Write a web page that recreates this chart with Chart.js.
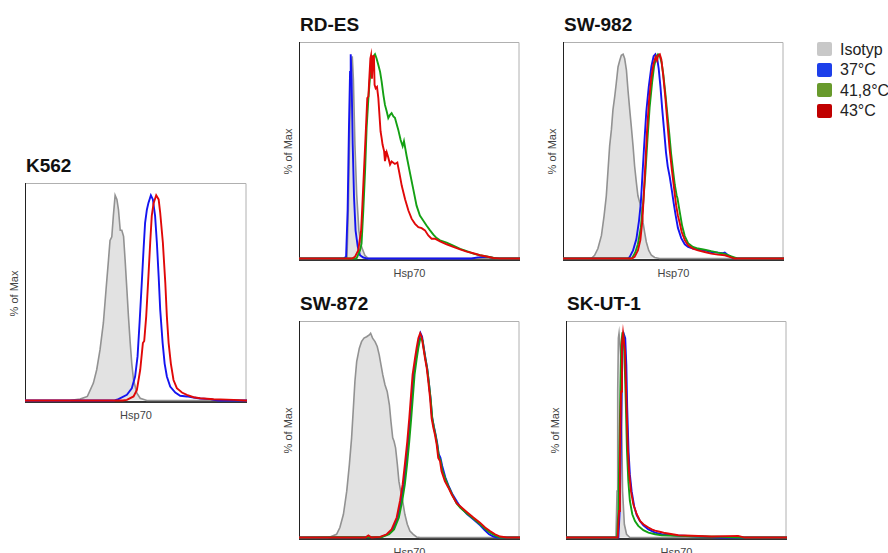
<!DOCTYPE html>
<html>
<head>
<meta charset="utf-8">
<script src="https://cdn.jsdelivr.net/npm/chart.js@4.4.1/dist/chart.umd.min.js"></script>
<style>
  html, body { margin: 0; padding: 0; background: #fff; }
  body { width: 888px; height: 553px; position: relative; overflow: hidden;
         font-family: "Liberation Sans", Arial, sans-serif; }
  canvas { position: absolute; }
  .title { position: absolute; font-weight: bold; font-size: 19px; line-height: 19px; color: #111; white-space: nowrap; }
  .xlab { position: absolute; font-size: 11px; line-height: 11px; color: #444; width: 100px; text-align: center; }
  .ylab { position: absolute; font-size: 11px; line-height: 11px; color: #444; width: 80px; text-align: center;
          transform: rotate(-90deg); }
  .key { position: absolute; left: 817px; width: 15px; height: 14px; border-radius: 2px; }
  .keytxt { position: absolute; left: 840px; font-size: 16px; line-height: 15px; color: #222; white-space: nowrap; }
</style>
</head>
<body>
<script>
// Hsp70 histograms, x = channel (0-100 of the plotted range), y = % of Max
const k562Iso = [[0,0],[20,0],[24.8,0.7],[28.1,2],[30.8,8.5],[32.3,15],[33.8,24.8],[35.3,37.8],[36.5,54],[37.6,68.4],[38.3,78],[39.1,79.8],[39.8,90],[40.6,100],[41.4,98],[42.1,93],[42.9,83],[43.6,83],[44.4,80],[45.1,68.4],[45.9,54],[46.6,41],[47.4,28],[48.1,18],[48.9,10],[50.4,3.6],[51.9,1.1],[54.9,0],[100,0]];
const k562C37 = [[0,0],[40,0],[42.1,0.7],[45.9,2.8],[48.1,6],[49.6,11.7],[50.7,21.5],[51.6,37.8],[52.6,57.3],[53.4,73.6],[54.1,86.6],[54.9,93],[55.6,96.3],[56.7,100],[57.6,98],[58.6,90],[59.4,77],[60.2,60.6],[60.9,44.3],[62,28],[62.9,18],[63.9,11.7],[65.4,6.8],[67.7,3.9],[69.9,2.3],[72.9,2],[75.9,1.5],[78.9,1],[83.5,0.7],[85,0.3],[87,0],[100,0]];
const k562C43 = [[0,0],[44,0],[45.9,0.3],[48.9,2],[50.4,5.2],[51.9,15],[53.1,28],[53.7,29],[54.6,41],[55.6,60.6],[56.4,77],[57.1,90],[57.9,96],[59.1,100],[60.2,98],[60.9,91.5],[62.1,77],[63.2,57.3],[63.9,41],[64.7,28],[65.7,18],[66.9,10],[68.4,6],[70.7,3.9],[72.9,2.8],[75.9,1.6],[78.9,1.1],[85,0.65],[94,0.3],[99.2,0],[100,0]];

const rdesIso = [[0,0],[21.7,0],[22.3,23.5],[23.1,72],[23.8,96],[24.1,99],[24.6,88],[25.3,55.8],[26.1,31.6],[27.1,13.7],[28.3,5.7],[29.8,1.6],[31.4,0],[100,0]];
const rdesC37 = [[0,0],[20.1,0],[21.3,0.8],[22.0,23.5],[22.6,64],[23.1,91.4],[23.4,100],[23.8,88],[24.3,55.8],[24.9,30],[25.6,13.7],[26.6,5.7],[27.6,1.6],[29.1,0.5],[31,0],[78,0],[81,0.6],[85,0.8],[88,0.3],[90,0],[100,0]];
const rdesC418 = [[0,0],[26,0],[27.6,4],[28.3,7.3],[29.1,23.5],[29.9,42.9],[30.6,64],[31.4,78.5],[32.2,89.8],[32.9,96.3],[33.6,98.9],[34.4,100],[35.1,97.9],[35.9,94.7],[36.7,91.4],[37.4,86.6],[38.2,80],[38.9,75.2],[39.7,72],[40.4,68.8],[41.2,70.4],[41.9,71.2],[42.7,69.6],[43.4,68.9],[44.9,63.1],[46,58],[46.9,55],[47.5,57.5],[48.7,50.2],[50.2,42],[51.7,34],[53.2,25.9],[54.7,21],[56.2,18.6],[57.7,16.2],[59.3,13.8],[60.8,11.7],[62.3,10],[63.8,8.9],[66.8,7.8],[69.8,6.3],[72.9,4.7],[75.9,3.6],[78.9,2.4],[81.9,1.6],[84.9,1],[89.4,0],[100,0]];
const rdesC43 = [[0,0],[24,0],[25.3,0.8],[26.8,4],[28.1,13.7],[28.7,26.7],[29.6,47.7],[30.3,64],[30.9,78.5],[31.4,79.3],[31.8,88],[32.3,98],[32.6,99.5],[33.0,88],[33.5,98.5],[33.9,99.5],[34.2,85],[34.7,83.3],[35.3,84],[35.9,78.5],[36.3,72],[36.9,62.3],[37.4,59],[37.8,55.8],[38.5,52.6],[38.9,47.7],[39.7,52],[40.4,49.5],[41.2,46],[41.9,47.5],[43.4,46.3],[44.5,47],[45.4,42],[46.5,35.6],[48,29],[49.5,23.5],[51,19.4],[52.5,17],[54,15.4],[55.5,14.9],[57,13.8],[58.5,11.3],[60,9.7],[61.5,9.7],[63.8,8.4],[66.8,7.0],[69.8,5.7],[72.9,4.5],[75.9,3.4],[78.9,2.6],[81.9,1.6],[84.9,1],[87.9,0.3],[90.9,0],[100,0]];

const sw982Iso = [[0,0],[12.8,0],[14.3,1.6],[15.8,4.9],[17.4,11.3],[18.6,21],[19.6,30.7],[20.4,43.7],[21.1,55],[21.9,63.1],[22.6,72.8],[23.4,79.3],[24.1,85.8],[24.9,93.8],[25.7,97.1],[26.4,99.5],[27.2,100],[27.9,97.9],[28.7,92.2],[29.4,82.5],[30.2,72.8],[30.9,64.7],[31.7,55],[32.4,45.3],[33.2,37.2],[33.9,30.7],[34.7,27.5],[35.5,24.3],[36.2,17.8],[36.9,13],[37.7,8.1],[38.8,4],[40.0,1.6],[41.5,0.5],[43.7,0],[100,0]];
const sw982C37 = [[0,0],[29.4,0],[30.2,0.8],[31.7,4],[33.2,9.5],[34.4,18.6],[35.2,27],[35.9,40],[36.7,55],[37.7,72],[38.8,84],[40.0,94],[41.0,99],[41.8,100],[42.6,98],[43.3,93],[44.1,84],[44.9,73],[45.8,62],[46.6,52],[47.4,45],[48.3,40],[49.3,33],[50.1,27],[51,21],[52,15],[53.5,10],[55.1,7],[56.6,5.7],[58.8,4.9],[61.1,4.4],[64.1,4],[67.1,3.2],[70.1,2.9],[72.4,2.6],[73.2,2.9],[74.7,1.6],[76.9,0.3],[79.2,0],[100,0]];
const sw982C418 = [[0,0],[31.2,0],[32.7,3],[33.9,7],[35.2,15],[36.2,26],[37.3,42],[38.2,58],[39.2,74],[40.3,86],[41.2,94],[42.2,98.5],[43.0,100],[43.8,99],[44.6,96],[45.4,90],[46.3,81],[47.2,71],[48.1,61],[48.9,51.5],[49.8,43],[50.6,36],[51.4,31],[51.8,29.5],[52.8,23],[53.9,16],[55.1,11],[56.6,7.5],[58.8,5.7],[61.1,4.9],[64.1,4.4],[67.1,3.6],[70.1,2.9],[73.2,2.3],[76.2,1],[79.2,0],[100,0]];
const sw982C43 = [[0,0],[31.2,0],[32.4,0.8],[33.9,4],[35.0,9],[35.9,18.6],[36.5,30],[37.3,47],[38.0,62],[38.9,77],[40.0,89],[41.0,95.5],[41.9,98.7],[42.5,97],[43.1,99.5],[43.8,100],[44.5,97.5],[45.3,90],[46.3,79],[47.2,67],[48.2,54],[49.3,43],[50.3,34],[51.2,26],[52.0,21],[52.8,17.5],[53.7,13],[55.1,9],[56.6,6.5],[58.8,4.9],[61.1,4],[64.1,3.2],[67.1,2.4],[70.1,1.9],[73.2,1.6],[75.4,0.8],[77.7,0],[100,0]];

const sw872Iso = [[0,0],[13.1,0],[14.0,0.3],[17.0,1.6],[18.5,4.9],[20.1,11.4],[21.6,22.7],[22.8,35.8],[23.8,48.8],[24.6,63.4],[25.3,76.4],[26.1,86.1],[27.3,92.7],[28.3,95.9],[29.4,97.6],[30.6,98.3],[31.8,99.2],[32.4,100],[33.3,97.6],[34.4,95.9],[35.4,93.5],[36.3,89.4],[37.1,84.5],[37.9,79.7],[38.9,74.8],[39.9,71.5],[40.9,65],[41.6,56.9],[42.4,48.8],[43.0,47.1],[43.7,43.9],[44.5,35.8],[45.2,27.6],[46.0,22.7],[46.9,17.9],[47.9,11.4],[49.0,6.5],[50.2,3.2],[51.7,1.6],[53.2,0.3],[54.8,0],[100,0]];
const sw872C37 = [[0,0],[37.2,0.3],[40.2,1.6],[42.4,4],[44.7,9.8],[46.2,17.9],[47.4,26],[48.4,35.8],[49.5,47.1],[50.4,58.5],[51.2,69.9],[51.9,79.7],[53.0,87.8],[53.7,92.7],[54.5,97.6],[55.0,100],[55.7,98.3],[56.5,92.7],[57.2,87.8],[58.0,82.9],[58.7,76.4],[59.5,68.3],[60.2,59],[61.0,54.5],[61.7,51],[62.5,46.5],[63.2,41],[64.0,39],[64.8,35],[66.2,29.5],[67.8,25],[69.3,21.5],[71.5,17.5],[73.0,15],[76.0,11.5],[79.0,8.8],[82.0,6],[84.0,3.6],[86.0,1.6],[88,0.5],[90,0],[100,0]];
const sw872C418 = [[0,0],[37.5,0.3],[40.8,1.6],[43,4],[45.2,9.8],[46.7,17.9],[47.9,26],[48.9,35.8],[49.9,47.1],[50.8,58.5],[51.6,69.9],[52.3,79.7],[53.3,87.8],[54.0,92.7],[54.7,96.5],[55.2,97.5],[55.9,96.5],[56.6,91.5],[57.3,87],[58.1,82],[58.8,75.5],[59.6,67.5],[60.3,58.5],[61.1,53.5],[61.8,50],[62.6,45],[63.3,39.5],[64.1,37.5],[64.8,33],[66.3,28.5],[67.8,24.5],[69.3,21],[71.4,16.5],[73.0,14.5],[76,11.8],[79,9.2],[82,6.5],[84.3,4.2],[86.5,2.4],[89,0.8],[91,0],[100,0]];
const sw872C43 = [[0,0],[30,0],[31.4,1],[32.8,0],[36.7,0.3],[39.7,1.6],[41.9,4],[44.2,9.8],[45.7,17.9],[46.9,26],[47.9,35.8],[49.0,47.1],[49.9,58.5],[50.7,69.9],[51.4,79.7],[52.5,87.8],[53.2,92.7],[54.0,97.6],[54.8,100],[55.5,98.3],[56.3,92.7],[57.0,87.8],[57.8,82.9],[58.5,76.4],[59.3,68.3],[60.0,58.5],[60.8,53.7],[61.5,50.4],[62.3,45.5],[63.0,39],[63.8,37.4],[64.5,32.5],[66.0,27.6],[67.6,24.4],[69.1,21.1],[71.3,16.8],[72.8,15.4],[75.9,12.5],[78.9,9.8],[81.9,7.3],[84.2,4.9],[86.4,3.2],[88.7,1.6],[91.0,0.5],[94,0],[100,0]];

const skut1Iso = [[0,0],[22.6,0],[23.1,22.7],[23.4,71.5],[23.7,97.6],[24.0,100],[24.4,100],[24.9,87.8],[25.2,55.3],[25.6,22.7],[26.4,6.5],[27.4,1.6],[28.9,0],[100,0]];
const skut1C37 = [[0,0],[23.7,0],[24.3,13],[24.7,39],[25.2,71.5],[25.6,94.3],[26.2,99.5],[26.8,97.6],[27.3,84.5],[27.7,63.4],[28.3,42.2],[28.9,30.9],[29.7,22.7],[30.9,15],[32.0,11],[33.5,8],[35.0,6],[37.3,4],[40.3,2.4],[43.3,1.6],[50,1],[60,0.5],[70,0],[100,0]];
const skut1C418 = [[0,0],[23.1,0],[23.7,13],[24.1,39],[24.6,71.5],[25.0,94.3],[25.5,100],[25.9,100],[26.4,91],[27.0,68.3],[27.6,42.2],[28.2,27.6],[28.9,17.9],[30.0,11.4],[31.2,8.1],[32.7,5.7],[35.0,3.6],[37.3,2.4],[40.3,1.6],[43.3,1.1],[50.8,0.8],[60,0.5],[70,0.4],[81,0],[100,0]];
const skut1C43 = [[0,0],[23.4,0],[24.0,13],[24.4,39],[24.9,71.5],[25.3,94.3],[25.8,100],[26.2,100],[26.7,91],[27.3,68.3],[27.9,45.5],[28.5,32.5],[29.4,22.7],[30.5,16.2],[32.0,11.4],[33.5,8.1],[35.0,6.5],[37.3,4.9],[38.8,4],[40.3,3.4],[43.3,2.6],[44.8,2.2],[50.8,1.1],[65.9,0.5],[77.9,0.8],[80.9,0],[100,0]];

const seriesNames = ['Isotyp', '37°C', '41,8°C', '43°C'];
const keyColors = ['#c8c8c8', '#1d3fea', '#689a2c', '#c00000'];
const lineColors = ['#929292', '#1414f0', '#14a014', '#e00808'];

const panels = [
  { name: 'K562',    box: [25, 183, 222, 220],  sets: [k562Iso, k562C37, null, k562C43] },
  { name: 'RD-ES',   box: [299, 42, 221, 219],  sets: [rdesIso, rdesC37, rdesC418, rdesC43] },
  { name: 'SW-982',  box: [563, 42, 221, 219],  sets: [sw982Iso, sw982C37, sw982C418, sw982C43] },
  { name: 'SW-872',  box: [299, 321, 221, 219], sets: [sw872Iso, sw872C37, sw872C418, sw872C43] },
  { name: 'SK-UT-1', box: [566, 321, 221, 219], sets: [skut1Iso, skut1C37, skut1C418, skut1C43] }
];

// plot frame: dark left/bottom axis, light top/right edge
const frame = {
  id: 'frame',
  beforeDatasetsDraw(chart) {
    const { ctx, chartArea: a } = chart;
    ctx.save();
    ctx.lineWidth = 1;
    ctx.strokeStyle = '#b0b0b0';
    ctx.beginPath();
    ctx.moveTo(a.left, a.top + 0.5);
    ctx.lineTo(a.right - 1, a.top + 0.5);
    ctx.lineTo(a.right - 1, a.bottom);
    ctx.stroke();
    ctx.strokeStyle = '#222';
    ctx.beginPath();
    ctx.moveTo(a.left + 0.5, a.top);
    ctx.lineTo(a.left + 0.5, a.bottom);
    ctx.stroke();
    ctx.lineWidth = 2;
    ctx.strokeStyle = '#333';
    ctx.beginPath();
    ctx.moveTo(a.left, a.bottom - 1);
    ctx.lineTo(a.right, a.bottom - 1);
    ctx.stroke();
    ctx.restore();
  }
};

function addText(cls, text, css) {
  const d = document.createElement('div');
  d.className = cls;
  d.textContent = text;
  Object.assign(d.style, css);
  document.body.appendChild(d);
}

panels.forEach(function(p) {
  const [left, top, w, h] = p.box;

  const cv = document.createElement('canvas');
  cv.width = w;
  cv.height = h;
  cv.style.left = left + 'px';
  cv.style.top = top + 'px';
  document.body.appendChild(cv);

  const datasets = [];
  p.sets.forEach(function(pts, i) {
    if (!pts) return;
    datasets.push({
      label: seriesNames[i],
      data: pts.map(function(v) { return { x: v[0], y: v[1] }; }),
      borderColor: lineColors[i],
      backgroundColor: i === 0 ? '#e2e2e2' : 'transparent',
      fill: i === 0 ? 'origin' : false,
      borderWidth: i === 0 ? 1.6 : 1.9,
      pointRadius: 0,
      tension: 0,
      order: 4 - i
    });
  });

  new Chart(cv, {
    type: 'line',
    data: { datasets: datasets },
    options: {
      responsive: false,
      animation: false,
      layout: { padding: 0 },
      scales: {
        x: { type: 'linear', min: 0, max: 100, display: false },
        y: { min: -1.2, max: 106, display: false }
      },
      plugins: { legend: { display: false }, tooltip: { enabled: false } }
    },
    plugins: [frame]
  });

  addText('title', p.name, { left: (left + 1) + 'px', top: (top - 27) + 'px' });
  addText('xlab', 'Hsp70', { left: (left + w / 2 - 50) + 'px', top: (top + h + 7) + 'px' });
  addText('ylab', '% of Max', { left: (left - 11 - 40) + 'px', top: (top + h / 2 - 5.5) + 'px' });
});

// legend
const keyRows = [49, 69.5, 90, 110.5];
seriesNames.forEach(function(n, i) {
  const sq = document.createElement('div');
  sq.className = 'key';
  sq.style.top = (keyRows[i] - 7) + 'px';
  sq.style.background = keyColors[i];
  document.body.appendChild(sq);
  addText('keytxt', n, { top: (keyRows[i] - 7.2) + 'px' });
});
</script>
</body>
</html>
